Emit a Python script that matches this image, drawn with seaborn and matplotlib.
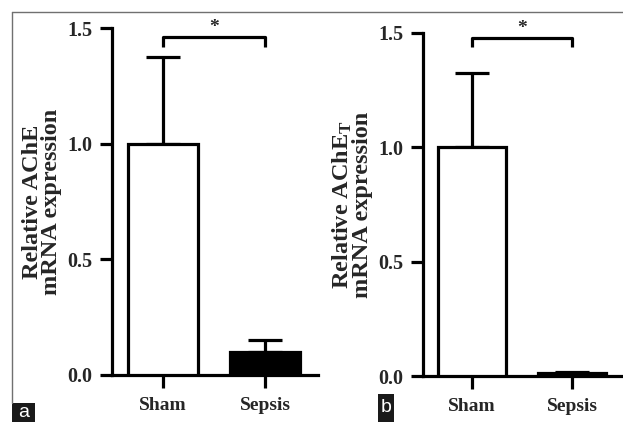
import pandas as pd
import matplotlib
matplotlib.use('Agg')
import matplotlib.pyplot as plt
import seaborn as sns
from matplotlib.patches import Rectangle
from matplotlib.lines import Line2D


# Данные
groups = ['Sham', 'Sepsis']
ache_means = [1.0, 0.10]
ache_err = [0.375, 0.05]
ache_t_means = [1.0, 0.012]
ache_t_err = [0.325, 0.004]
y_ticks = [0.0, 0.5, 1.0, 1.5]

sns.set_theme(style='white')
plt.rcParams['font.family'] = ['Liberation Serif', 'DejaVu Serif']
plt.rcParams['font.weight'] = 'bold'
plt.rcParams['mathtext.fontset'] = 'custom'
plt.rcParams['mathtext.rm'] = 'Liberation Serif:bold'
plt.rcParams['mathtext.it'] = 'Liberation Serif:bold'

W, H = 623, 422
LW = 2.3
fig = plt.figure(figsize=(W / 100, H / 100), dpi=100)
fig.patch.set_facecolor('white')


# оси в пикселях: левый, верхний, правый, нижний край
def px_axes(left, top, right, bottom):
    return fig.add_axes([left / W, 1 - bottom / H, (right - left) / W, (bottom - top) / H])


def draw_panel(ax, means, errs, ylabel, xlim, bracket):
    df = pd.DataFrame({'group': groups, 'value': means})
    sns.barplot(data=df, x='group', y='value', hue='group',
                palette={'Sham': 'white', 'Sepsis': 'black'},
                edgecolor='black', linewidth=LW, width=0.68,
                legend=False, ax=ax, zorder=3)
    # только верхняя половина планки ошибок
    ax.errorbar(range(len(groups)), means, yerr=[[0] * len(errs), errs],
                fmt='none', ecolor='black', elinewidth=LW, capsize=12.5,
                capthick=LW, zorder=2)
    ax.set_xlim(*xlim)
    ax.set_ylim(0, 1.5)
    ax.set_yticks(y_ticks)
    ax.set_yticklabels([f'{t:.1f}' for t in y_ticks])
    ax.set_xlabel('')
    ax.set_ylabel(ylabel, fontsize=17.5, fontweight='bold', labelpad=4,
                  linespacing=0.85)
    for side in ['top', 'right']:
        ax.spines[side].set_visible(False)
    for side in ['left', 'bottom']:
        ax.spines[side].set_linewidth(LW)
        ax.spines[side].set_color('black')
    ax.tick_params(axis='both', width=LW, length=9, color='black',
                   direction='out', bottom=True, left=True)
    ax.tick_params(axis='y', labelsize=14.5, pad=5)
    ax.tick_params(axis='x', labelsize=14, pad=7)
    for lab in ax.get_xticklabels() + ax.get_yticklabels():
        lab.set_fontweight('bold')

    # скобка значимости
    top, leg = bracket
    ax.plot([0, 0, 1, 1], [leg, top, top, leg], color='black', lw=LW,
            clip_on=False, solid_capstyle='butt')
    ax.text(0.5, top + 0.003, '*', ha='center', va='bottom', fontsize=14,
            fontweight='bold', clip_on=False)


ax_a = px_axes(112, 28, 318, 375)
draw_panel(ax_a, ache_means, ache_err, 'Relative AChE\nmRNA expression',
           (-0.5, 1.52), (1.462, 1.418))

ax_b = px_axes(423, 33, 623, 376)
draw_panel(ax_b, ache_t_means, ache_t_err,
           'Relative AChE$_{\\mathrm{T}}$\nmRNA expression',
           (-0.49, 1.51), (1.48, 1.44))

# серая рамка сверху и слева
fig.add_artist(Line2D([12 / W, 1], [1 - 12 / H, 1 - 12 / H], color='#707070',
                      lw=1.0, transform=fig.transFigure))
fig.add_artist(Line2D([12 / W, 12 / W], [1 - 12 / H, 1 - 403 / H], color='#707070',
                      lw=1.0, transform=fig.transFigure))

# метки панелей
for label, x0, x1, y0 in [('a', 12, 35, 403), ('b', 378, 394, 394)]:
    fig.add_artist(Rectangle((x0 / W, 0), (x1 - x0) / W, 1 - y0 / H,
                             facecolor='#1a1a1a', edgecolor='none',
                             transform=fig.transFigure))
    fig.text((x0 + x1) / 2 / W, (H - y0) / 2 / H, label, color='white',
             ha='center', va='center', fontsize=14, fontweight='normal',
             family='Liberation Sans')

fig.savefig('out.png', dpi=100)
